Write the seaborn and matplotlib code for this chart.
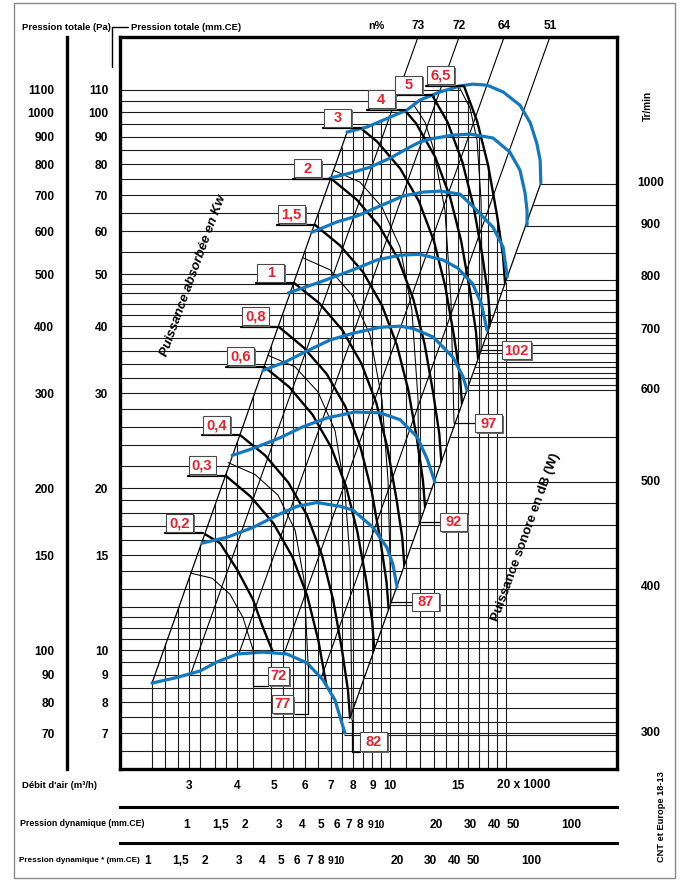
import numpy as np
import pandas as pd
import matplotlib
matplotlib.use("Agg")
import matplotlib.pyplot as plt
from matplotlib.patches import Rectangle, Polygon
from matplotlib.lines import Line2D
from matplotlib.ticker import NullLocator
import matplotlib.transforms as mtransforms
import seaborn as sns

# ------------------------------------------------------------------ data
# flow in thousands of m3/h, total pressure in mm.CE
q_range = [1.981, 39.0]
p_range = [6.009, 137.9]

pressure_ticks = [7, 8, 9, 10, 15, 20, 30, 40, 50, 60, 70, 80, 90, 100, 110]
pressure_pa_ticks = [70, 80, 90, 100, 150, 200, 300, 400, 500, 600, 700, 800, 900, 1000, 1100]
flow_ticks = [3, 4, 5, 6, 7, 8, 9, 10, 15]

# fan curves (Tr/min)
rpm_labels = [1000, 900, 800, 700, 600, 500, 400, 300]
fan_q_1000 = [7.73, 8.71, 11.07, 11.97, 13.5, 15.2, 16.4, 17.9, 19.7, 21.8, 23.2, 24.1, 24.6, 24.7]
fan_p_1000 = [91.8, 93.8, 100.9, 105.3, 109.0, 111.8, 112.7, 112.2, 109.0, 103.0, 95.4, 87.6, 81.4, 73.8]
fan_q_900 = [6.98, 7.87, 8.87, 10.0, 11.27, 11.97, 12.71, 14.59, 16.16, 18.54, 20.5, 21.8, 22.47, 22.74, 22.74]
fan_p_900 = [75.4, 77.0, 79.0, 82.1, 86.1, 88.0, 89.1, 90.6, 91.0, 89.5, 84.3, 78.0, 70.7, 65.7, 61.7]
fan_q_800 = [6.26, 7.28, 8.21, 9.42, 10.81, 12.19, 13.5, 15.2, 16.4, 18.54, 19.7, 20.2]
fan_p_800 = [59.8, 62.5, 64.1, 66.9, 69.8, 71.0, 71.3, 70.4, 66.9, 61.1, 56.1, 49.4]
fan_q_700 = [5.43, 6.57, 8.01, 9.25, 10.62, 11.97, 13.74, 15.0, 16.4, 17.3, 17.89]
fan_p_700 = [46.1, 48.3, 50.9, 53.1, 54.2, 54.4, 53.1, 51.3, 48.0, 44.0, 39.3]
fan_q_600 = [4.67, 5.33, 6.0, 6.98, 8.01, 9.42, 10.62, 11.48, 12.94, 14.59, 15.5, 15.87]
fan_p_600 = [33.1, 34.3, 35.8, 37.7, 38.8, 39.8, 40.0, 39.6, 38.2, 35.0, 32.2, 30.4]
fan_q_500 = [3.88, 4.40, 5.17, 5.93, 6.85, 8.11, 9.42, 10.62, 11.76, 12.48, 13.1]
fan_p_500 = [23.0, 23.7, 24.8, 26.0, 27.0, 27.7, 27.6, 26.8, 24.9, 22.7, 20.5]
fan_q_400 = [3.24, 3.76, 4.40, 5.08, 5.73, 6.45, 7.41, 8.01, 9.03, 9.82, 10.18, 10.43]
fan_p_400 = [15.8, 16.2, 16.9, 17.8, 18.5, 18.8, 18.5, 18.2, 16.9, 15.5, 14.4, 13.1]
fan_q_300 = [2.40, 2.75, 3.20, 3.54, 4.0, 4.67, 5.39, 6.08, 6.69, 7.19, 7.63]
fan_p_300 = [8.68, 8.87, 9.14, 9.50, 9.83, 9.91, 9.83, 9.46, 8.80, 8.07, 7.01]

# absorbed power curves (kW)
power_labels = ["0,2", "0,3", "0,4", "0,6", "0,8", "1", "1,5", "2", "3", "4", "5", "6,5"]
pw_q_02 = [3.26, 3.61, 4.0, 4.40, 4.67, 4.93, 5.1]
pw_p_02 = [16.5, 15.8, 14.1, 12.4, 11.0, 10.0, 9.3]
pw_q_03 = [3.73, 4.33, 4.97, 5.57, 6.09, 6.51, 6.87, 7.12]
pw_p_03 = [21.1, 19.3, 17.2, 14.9, 12.6, 10.4, 8.39, 7.07]
pw_q_04 = [4.07, 4.73, 5.43, 6.08, 6.65, 7.11, 7.50, 7.77, 7.87]
pw_p_04 = [25.1, 23.0, 20.5, 17.8, 15.0, 12.4, 10.0, 8.43, 7.47]
pw_q_06 = [4.71, 5.47, 6.28, 7.03, 7.69, 8.22, 8.68, 8.99, 9.10]
pw_p_06 = [33.6, 30.8, 27.4, 23.8, 20.1, 16.6, 13.4, 11.3, 10.0]
pw_q_08 = [5.13, 5.96, 6.84, 7.66, 8.38, 8.96, 9.45, 9.79, 9.92]
pw_p_08 = [39.9, 36.5, 32.6, 28.3, 23.8, 19.7, 15.9, 13.4, 11.9]
pw_q_1 = [5.63, 6.55, 7.52, 8.42, 9.21, 9.84, 10.38, 10.76, 10.90]
pw_p_1 = [48.1, 44.1, 39.3, 34.1, 28.8, 23.8, 19.2, 16.2, 14.3]
pw_q_15 = [6.38, 7.41, 8.51, 9.53, 10.42, 11.15, 11.76, 12.18, 12.34]
pw_p_15 = [61.7, 56.5, 50.4, 43.7, 36.9, 30.5, 24.6, 20.7, 18.4]
pw_q_2 = [7.04, 8.18, 9.39, 10.52, 11.50, 12.30, 12.97, 13.44, 13.61]
pw_p_2 = [75.1, 68.8, 61.3, 53.2, 44.9, 37.1, 29.9, 25.2, 22.3]
pw_q_3 = [7.97, 9.26, 10.63, 11.90, 13.02, 13.92, 14.68, 15.21, 15.40]
pw_p_3 = [96.2, 88.1, 78.5, 68.2, 57.5, 47.5, 38.3, 32.3, 28.6]
pw_q_4 = [8.77, 10.19, 11.70, 13.10, 14.33, 15.32, 16.16, 16.74, 16.96]
pw_p_4 = [116.5, 106.8, 95.2, 82.6, 69.6, 57.6, 46.4, 39.1, 34.7]
pw_q_5 = [9.45, 10.98, 12.60, 14.11, 15.43, 16.50, 17.41, 18.03, 18.26]
pw_p_5 = [135.2, 123.9, 110.4, 95.9, 80.8, 66.8, 53.9, 45.4, 40.2]
pw_q_65 = [10.31, 11.98, 13.76, 15.40, 16.85, 18.01, 19.00, 19.69, 19.94]
pw_p_65 = [161.1, 147.6, 131.6, 114.3, 96.3, 79.6, 64.2, 54.1, 47.9]
power_anchor_q = [3.26, 3.73, 4.07, 4.71, 5.13, 5.63, 6.38, 7.04, 8.42, 10.93, 12.9, 15.59]
power_anchor_p = [16.5, 21.1, 25.1, 33.6, 39.9, 48.1, 61.7, 75.1, 93.4, 101.1, 107.5, 112.0]

# sound power curves, dB(W)
sound_labels = ["72", "77", "82", "87", "92", "97", "102"]
snd_q_72 = [3.02, 3.44, 3.83, 4.14, 4.40]
snd_p_72 = [13.9, 13.6, 12.7, 11.5, 10.0]
snd_q_77 = [3.79, 4.45, 5.11, 5.66, 5.97, 6.12]
snd_p_77 = [22.3, 21.2, 19.4, 16.7, 13.5, 9.38]
snd_q_82 = [4.81, 5.66, 6.49, 7.19, 7.63, 7.87, 7.96]
snd_p_82 = [35.3, 33.6, 30.2, 25.6, 19.8, 14.7, 7.41]
snd_q_87 = [5.93, 6.98, 7.96, 8.87, 9.53, 9.88, 10.06]
snd_p_87 = [53.6, 50.9, 45.7, 38.5, 29.2, 20.7, 12.3]
snd_q_92 = [7.11, 8.35, 9.53, 10.62, 11.4, 11.83, 11.9]
snd_p_92 = [78.0, 74.1, 66.6, 56.1, 42.9, 29.2, 17.3]
snd_q_97 = [11.48, 12.33, 12.94, 13.9, 14.41, 14.68]
snd_p_97 = [103.5, 95.8, 86.1, 65.7, 44.7, 26.4]
snd_q_102 = [15.2, 16.16, 16.85, 17.26, 17.36, 17.26]
snd_p_102 = [110.8, 101.7, 88.7, 68.6, 50.9, 36.1]

# efficiency (n%) and limit system lines: bottom point and top point
eff_labels = ["73", "72", "64", "51"]
eff_q0 = [3.04, 4.04, 5.30, 6.62]
eff_p0 = [9.1, 9.84, 9.85, 8.88]
eff_q1 = [11.83, 15.13, 19.82, 26.08]
eff_p1 = [137.9, 137.9, 137.9, 137.9]
limit_q0 = [2.40, 7.85]
limit_p0 = [8.68, 7.45]
limit_q1 = [7.73, 24.7]
limit_p1 = [91.8, 73.8]

# grid of the abacus
grid_p = [6.5, 7, 7.5, 8, 8.5, 9, 9.5, 10, 10.5, 11, 11.5, 12, 13, 14, 15, 16, 17, 18, 19, 20,
          22, 24, 26, 28, 30, 32, 34, 36, 38, 40, 42, 44, 46, 48,
          50, 55, 60, 65, 70, 75, 80, 85, 90, 95, 100, 105, 110]
grid_p_end = [39.0, 39.0, 7.88, 8.14, 8.39, 8.63, 8.87, 9.10, 9.32, 9.54, 9.76, 9.97, 10.37, 10.77,
              11.14, 11.51, 11.86, 12.21, 12.54, 12.87, 13.5, 14.1, 14.67, 15.22, 15.76, 16.28,
              16.78, 17.26, 17.74, 18.2, 18.65, 19.08, 19.51, 19.93, 19.85, 19.65, 19.29, 18.95,
              18.63, 18.3, 18.0, 17.63, 17.3, 16.95, 16.55, 16.15, 15.2]
grid_q = [2.4, 2.6, 2.8, 3.0, 3.2, 3.5, 3.75, 4.0, 4.4, 4.9, 5.25, 5.6, 6.0, 6.5, 7.0, 7.5, 8.0,
          8.5, 9.0, 9.5, 10, 11, 12, 13, 14, 15, 16, 17, 18, 19, 20]
grid_q_top = [8.8, 10.3, 12.0, 13.8, 15.7, 18.7, 21.5, 24.5, 29.6, 36.7, 42.2, 48.0, 55.1, 64.6,
              75.0, 86.1, 92.4, 93.4, 94.7, 96.2, 97.7, 100.7, 105.4, 107.9, 110.0, 111.6, 106.9,
              94.1, 79.7, 64.2, 48.3]
rpm_line_p = [73.5, 67.2, 61.4, 54.7, 48.7, 46.7, 44.7, 42.5, 40.7, 38.8, 38.0, 36.9, 35.6, 34.3,
              33.6, 32.7, 32.0, 31.1, 30.4, 24.9, 20.5, 18.8, 17.1, 15.5, 14.2, 13.0, 12.1, 11.5,
              11.0, 10.4, 10.1, 9.46, 8.87, 8.32, 7.80, 7.35, 6.95]
rpm_line_start = [24.65, 23.57, 22.53, 21.26, 20.06, 19.65, 19.22, 18.74, 18.34, 17.91, 17.72,
                  17.46, 17.15, 16.84, 16.66, 16.44, 16.26, 16.03, 15.85, 14.35, 13.02, 12.46,
                  11.89, 11.32, 10.83, 10.37, 10.0, 9.75, 9.53, 9.27, 9.14, 8.84, 8.56, 8.29,
                  8.03, 7.79, 7.58]

# dynamic pressure scales (mm.CE) : flow giving 1 mm.CE
pd_ref_q = [2.96, 2.33]
pd_major = [1, 1.5, 2, 3, 4, 5, 6, 7, 8, 9, 10, 20, 30, 40, 50, 100]
pd_major_lab = ["1", "1,5", "2", "3", "4", "5", "6", "7", "8", "9", "10", "20", "30", "40", "50", "100"]
pd_minor = [0.5, 3.5, 4.5, 12, 14, 16, 25, 35, 45, 60, 70, 80, 125, 150]

# ------------------------------------------------------------------ style
sns.set_theme(style="white")
FONT = ["Liberation Sans", "DejaVu Sans"]
plt.rcParams["font.family"] = FONT
plt.rcParams["font.weight"] = "bold"
for k in ["text.color", "axes.labelcolor", "xtick.color", "ytick.color", "axes.edgecolor"]:
    plt.rcParams[k] = "black"

BLUE = "#1478bd"
RED = "#e8212b"
GRID = "#1c1c1c"
NUM = 8.6

W, H = 682, 882
L, R, T, B = 120, 617, 37, 769
fig = plt.figure(figsize=(W / 100, H / 100), dpi=100)
fig.patch.set_facecolor("white")


def fline(xs, ys, **kw):
    fig.add_artist(Line2D([x / W for x in xs], [1 - y / H for y in ys],
                          transform=fig.transFigure, **kw))


def ftext(x, y, s, **kw):
    return fig.text(x / W, 1 - y / H, s, **kw)


def fbox(x0, y0, w, h, s, size=10.5):
    # x0, y0 = top-left corner in pixels
    fig.add_artist(Rectangle(((x0 + 1.8) / W, 1 - (y0 + h + 1.8) / H), w / W, h / H,
                             transform=fig.transFigure, facecolor="#6d6d6d",
                             edgecolor="none", zorder=10))
    fig.add_artist(Rectangle((x0 / W, 1 - (y0 + h) / H), w / W, h / H,
                             transform=fig.transFigure, facecolor="white",
                             edgecolor="#4a4a4a", lw=0.8, zorder=11))
    ftext(x0 + w / 2, y0 + h / 2 + 0.5, s, color=RED, fontsize=size, fontweight="bold",
          ha="center", va="center", zorder=12)


# ------------------------------------------------------------------ main abacus
ax = fig.add_axes([L / W, 1 - B / H, (R - L) / W, (B - T) / H])
ax.set_xscale("log")
ax.set_yscale("log")
ax.set_xlim(*q_range)
ax.set_ylim(*p_range)
ax.set_facecolor("white")
for s in ax.spines.values():
    s.set_linewidth(2.4)
    s.set_color("black")


def d2px(q, p):
    X, Y = ax.transData.transform((q, p))
    return X, H - Y


# grid lines
for p, qe in zip(grid_p, grid_p_end):
    ax.plot([q_range[0], qe], [p, p], color=GRID, lw=0.8, zorder=1, solid_capstyle="butt")
for q, pt in zip(grid_q, grid_q_top):
    ax.plot([q, q], [p_range[0], pt], color=GRID, lw=0.8, zorder=1, solid_capstyle="butt")
for p, qs in zip(rpm_line_p, rpm_line_start):
    ax.plot([qs, q_range[1]], [p, p], color=GRID, lw=0.8, zorder=1, solid_capstyle="butt")

# system / efficiency lines
for q0, p0, q1, p1 in zip(eff_q0, eff_p0, eff_q1, eff_p1):
    ax.plot([q0, q1], [p0, p1], color="black", lw=0.8, zorder=2)
for q0, p0, q1, p1 in zip(limit_q0, limit_p0, limit_q1, limit_p1):
    ax.plot([q0, q1], [p0, p1], color="black", lw=0.9, zorder=2)

# sound curves (thin)
sound_q = [snd_q_72, snd_q_77, snd_q_82, snd_q_87, snd_q_92, snd_q_97, snd_q_102]
sound_p = [snd_p_72, snd_p_77, snd_p_82, snd_p_87, snd_p_92, snd_p_97, snd_p_102]
for qs, ps in zip(sound_q, sound_p):
    ax.plot(qs, ps, color="black", lw=0.75, zorder=2)

# power curves (thick) clipped to the operating area
clip_poly = Polygon(np.column_stack([fan_q_1000 + fan_q_300[::-1], fan_p_1000 + fan_p_300[::-1]]),
                    closed=True, transform=ax.transData, facecolor="none", edgecolor="none")
ax.add_patch(clip_poly)
power_q = [pw_q_02, pw_q_03, pw_q_04, pw_q_06, pw_q_08, pw_q_1, pw_q_15, pw_q_2, pw_q_3, pw_q_4, pw_q_5, pw_q_65]
power_p = [pw_p_02, pw_p_03, pw_p_04, pw_p_06, pw_p_08, pw_p_1, pw_p_15, pw_p_2, pw_p_3, pw_p_4, pw_p_5, pw_p_65]
for qs, ps in zip(power_q, power_p):
    ln, = ax.plot(qs, ps, color="black", lw=1.7, zorder=3)
    ln.set_clip_path(clip_poly)

# fan curves with seaborn
fan_q = [fan_q_1000, fan_q_900, fan_q_800, fan_q_700, fan_q_600, fan_q_500, fan_q_400, fan_q_300]
fan_p = [fan_p_1000, fan_p_900, fan_p_800, fan_p_700, fan_p_600, fan_p_500, fan_p_400, fan_p_300]
rows = []
for n, qs, ps in zip(rpm_labels, fan_q, fan_p):
    for i, (q, p) in enumerate(zip(qs, ps)):
        rows.append({"rpm": n, "order": i, "q": q, "p": p})
fan_df = pd.DataFrame(rows)
sns.lineplot(data=fan_df, x="q", y="p", hue="rpm", palette={n: BLUE for n in rpm_labels},
             estimator=None, sort=False, legend=False, linewidth=2.3, ax=ax, zorder=5)
ax.set_xlabel("")
ax.set_ylabel("")

# ticks
ax.set_yticks(pressure_ticks, [str(v) for v in pressure_ticks])
ax.set_xticks(flow_ticks, [str(v) for v in flow_ticks])
ax.xaxis.set_minor_locator(NullLocator())
ax.yaxis.set_minor_locator(NullLocator())
ax.tick_params(axis="y", length=0, pad=8.5, labelsize=NUM)
ax.tick_params(axis="x", length=0, pad=8.0, labelsize=NUM)
x20, _ = d2px(20, 10)
ftext(x20 - 9, 785, "20 x 1000", fontsize=NUM, ha="left", va="center")

# Pa axis
axp = fig.add_axes([67 / W, 1 - B / H, 0.0001, (B - T) / H])
axp.set_yscale("log")
axp.set_ylim(p_range[0] * 10, p_range[1] * 10)
for k in ["top", "right", "bottom"]:
    axp.spines[k].set_visible(False)
axp.spines["left"].set_linewidth(2.4)
axp.set_xticks([])
axp.set_yticks(pressure_pa_ticks, [str(v) for v in pressure_pa_ticks])
axp.yaxis.set_minor_locator(NullLocator())
axp.tick_params(axis="y", direction="out", length=6, width=1.5, pad=3, labelsize=NUM)
axp.patch.set_alpha(0)

# dynamic pressure scales
for ypix, refq, minor in zip([807, 843], pd_ref_q, [pd_minor, pd_minor[1:] + [200]]):
    axd = fig.add_axes([L / W, 1 - ypix / H, (R - L) / W, 0.0001])
    axd.set_xscale("log")
    axd.set_xlim((q_range[0] / refq) ** 2, (q_range[1] / refq) ** 2)
    for k in ["top", "right", "left"]:
        axd.spines[k].set_visible(False)
    axd.spines["bottom"].set_linewidth(2.2)
    axd.set_yticks([])
    axd.set_xticks(pd_major, pd_major_lab)
    axd.set_xticks(minor, minor=True)
    axd.tick_params(axis="x", which="both", direction="out", length=5, width=1.1, pad=4, labelsize=NUM)
    axd.tick_params(axis="x", which="minor", labelbottom=False)
    for t, v in zip(axd.get_xticklabels(), pd_major):
        if v in (9, 10):
            t.set_fontsize(7.4)
    axd.patch.set_alpha(0)

# ------------------------------------------------------------------ labels
# power label boxes
for lab, q, p in zip(power_labels, power_anchor_q, power_anchor_p):
    X, Y = d2px(q, p)
    bw, bh = 27, 18
    x0 = X - 10 - bw
    fline([x0 - 1, X], [Y, Y], color="black", lw=1.6, zorder=9)
    fbox(x0, Y - 1.5 - bh, bw, bh, lab)

# sound label boxes
ends = [d2px(qs[-1], ps[-1]) for qs, ps in zip(sound_q, sound_p)]
ex, ey = ends[0]
fline([ex, ex, 268], [ey, 686, 686], color="black", lw=0.9, zorder=9)
fbox(268, 667, 21, 18, "72")
ex, ey = ends[1]
fline([ex, ex, 293], [ey, 714, 714], color="black", lw=0.9, zorder=9)
fbox(272, 695, 21, 18, "77")
ex, ey = ends[2]
fline([ex, ex, 360], [ey, 752, 752], color="black", lw=0.9, zorder=9)
fbox(360, 732, 27, 19, "82")
for lab, (ex, ey) in zip(sound_labels[3:], ends[3:]):
    bx = ex + 21
    fline([ex, bx], [ey, ey], color="black", lw=0.9, zorder=9)
    fbox(bx, ey - 9, 27 if len(lab) < 3 else 29, 18, lab)

# rotated captions
ftext(193, 276, "Puissance absorbée en Kw", fontsize=9.5, fontweight="bold", style="italic",
      rotation=70, rotation_mode="anchor", ha="center", va="center")
ftext(526, 537, "Puissance sonore en dB (W)", fontsize=9.5, fontweight="bold",
      rotation=70, rotation_mode="anchor", ha="center", va="center")

# top texts
ftext(22, 27, "Pression totale (Pa)", fontsize=6.8, ha="left", va="center")
ftext(131, 27, "Pression totale (mm.CE)", fontsize=6.8, ha="left", va="center")
fline([112, 112, 128], [67, 27, 27], color="black", lw=1.0)
ftext(376, 26, "n%", fontsize=7.8, ha="center", va="center")
for lab, q in zip(eff_labels, eff_q1):
    X, _ = d2px(q, 100)
    ftext(X, 26, lab, fontsize=NUM, ha="center", va="center")

# Tr/min scale
blend = mtransforms.blended_transform_factory(fig.transFigure, ax.transData)
for n, ps in zip(rpm_labels, fan_p):
    fig.text(651 / W, ps[-1], str(n), transform=blend, fontsize=NUM, ha="center", va="center")
ftext(648, 106, "Tr/min", fontsize=7.2, rotation=90, ha="center", va="center")

# bottom texts
ftext(22, 785, "Débit d'air (m³/h)", fontsize=6.8, ha="left", va="center")
ftext(20, 823, "Pression dynamique (mm.CE)", fontsize=6.3, ha="left", va="center")
ftext(19, 860, "Pression dynamique * (mm.CE)", fontsize=5.9, ha="left", va="center")
ftext(662, 817, "CNT et Europe 18-13", fontsize=6.7, fontweight="bold",
      rotation=90, ha="center", va="center")

# outer border
fig.add_artist(Rectangle((14 / W, 1 - 878 / H), (675 - 14) / W, (878 - 3) / H,
                         transform=fig.transFigure, facecolor="none", edgecolor="#8a8a8a",
                         lw=1.0, zorder=0))

fig.savefig("out.png", dpi=100, facecolor="white")
